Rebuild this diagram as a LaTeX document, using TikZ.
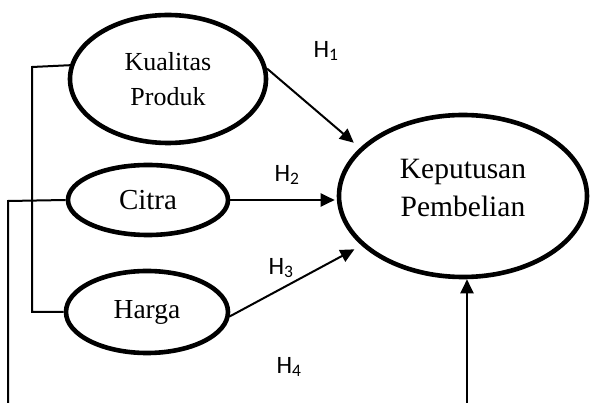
\documentclass[tikz,border=0pt]{standalone}
\usepackage{fontspec}
\setmainfont{Liberation Serif}
\newfontfamily\hfont{Carlito}
\usetikzlibrary{shapes.geometric,arrows.meta}
\begin{document}
\begin{tikzpicture}[x=1pt,y=-1pt,
  var/.style={ellipse,draw,line width=4.6pt,inner sep=0pt,align=center},
  conn/.style={line width=2pt},
  arr/.style={conn,-{Triangle[length=14pt,width=13pt]}},
  hlab/.style={font=\hfont\fontsize{25}{28}\selectfont}]
\useasboundingbox (0,0) rectangle (592,403);
\clip (0,0) rectangle (592,403);
\fill[white] (0,0) rectangle (592,403);
% variables
\node[var,minimum width=196pt,minimum height=128pt,font=\fontsize{26}{35}\selectfont] (kq) at (168,79) {Kualitas\\Produk};
\node[var,minimum width=160pt,minimum height=70pt,font=\fontsize{29}{34}\selectfont] (citra) at (148,200) {Citra};
\node[var,minimum width=162pt,minimum height=82pt,font=\fontsize{27.5}{34}\selectfont] (harga) at (147,312) {Harga};
\node[var,minimum width=248pt,minimum height=162pt] (kp) at (463,196) {};
\node[font=\fontsize{29.5}{38}\selectfont,align=center,inner sep=0pt] (kptext) at (463,188) {Keputusan\\Pembelian};
% hypothesis labels
\node[hlab] (h1) at (326,51) {H\textsubscript{1}};
\node[hlab] (h2) at (287,175) {H\textsubscript{2}};
\node[hlab] (h3) at (281,268) {H\textsubscript{3}};
\node[hlab] (h4) at (289,367) {H\textsubscript{4}};
% brackets
\coordinate (b1t) at (32,67);
\coordinate (b1b) at (32,312);
\draw[conn] (kq.172) -- (b1t) -- (b1b) -- (harga.west);
\coordinate (b2t) at (8,201);
\coordinate (b2b) at (8,420);
\coordinate (b2r) at (467,420);
\draw[conn] (citra.west) -- (b2t) -- (b2b) -- (b2r);
\draw[arr] (b2r) -- (b2r |- kp.south);
% arrows
\draw[arr,shorten >=8pt] (kq.6) -- (kp.155);
\draw[arr,shorten >=2pt] (citra.east) -- (citra.east -| kp.west);
\draw[arr,shorten >=8pt] (harga.-3) -- (kp.206);
\end{tikzpicture}
\end{document}
